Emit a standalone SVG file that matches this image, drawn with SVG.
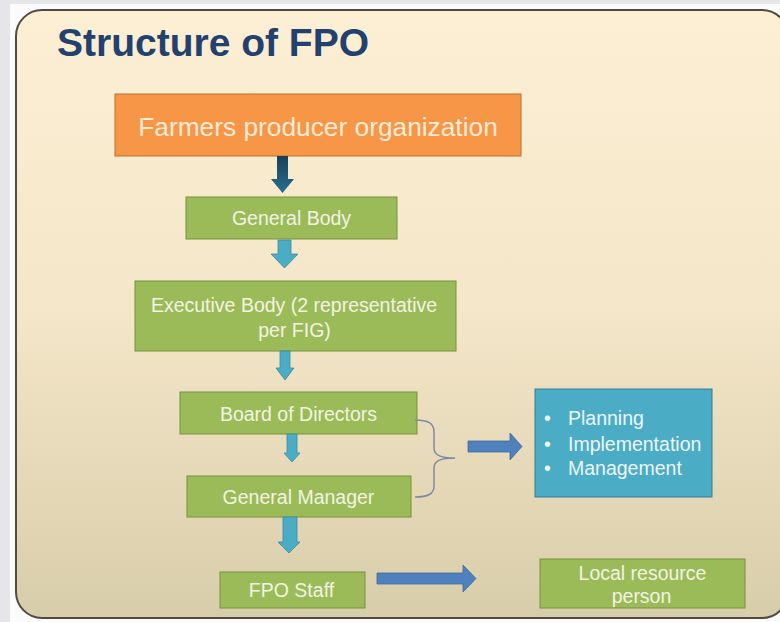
<svg xmlns="http://www.w3.org/2000/svg" width="780" height="622" viewBox="0 0 780 622">
  <defs>
    <linearGradient id="panelGrad" x1="0" y1="0" x2="0" y2="1">
      <stop offset="0" stop-color="#fdefd4"/>
      <stop offset="0.5" stop-color="#f4e6c8"/>
      <stop offset="1" stop-color="#d8cdaa"/>
    </linearGradient>
    <linearGradient id="darkArrow" x1="0" y1="0" x2="0" y2="1">
      <stop offset="0" stop-color="#173f56"/>
      <stop offset="1" stop-color="#2a6f90"/>
    </linearGradient>
    <style>
      .txt { font-family: "Liberation Sans", Arial, sans-serif; }
      .green rect { fill: #9bbb59; stroke: #76923c; stroke-width: 1; }
      .green text { fill: #f3f3e2; font-size: 19.5px; text-anchor: middle; }
      .lb { fill: #4bacc6; stroke: #3a8aa0; stroke-width: 0.8; }
      .bl { fill: #4f81bd; stroke: #3f6a9c; stroke-width: 0.8; }
    </style>
  </defs>

  <!-- background -->
  <rect x="0" y="0" width="780" height="622" fill="#fbfbfb"/>
  <rect x="0" y="0" width="780" height="4" fill="#e6e6ea"/>
  <rect x="0" y="0" width="10" height="622" fill="#e6e6ea"/>

  <!-- panel -->
  <rect x="16" y="10" width="772" height="608" rx="26" ry="26" fill="url(#panelGrad)" stroke="#4f4a42" stroke-width="2"/>

  <text class="txt" x="57" y="56" font-size="39" font-weight="bold" fill="#22416f">Structure of FPO</text>

  <g id="fpo">
    <rect x="115" y="94" width="406" height="62" fill="#f79646" stroke="#b8702f" stroke-width="1"/>
    <text class="txt" x="318" y="136" font-size="26.3" fill="#fdebd6" text-anchor="middle">Farmers producer organization</text>
  </g>

  <g id="general-body" class="green txt">
    <rect x="186" y="197" width="211" height="42"/>
    <text x="291.5" y="225">General Body</text>
  </g>

  <g id="executive-body" class="green txt">
    <rect x="135" y="281" width="321" height="70"/>
    <text x="294" y="312">Executive Body (2 representative</text>
    <text x="294.5" y="337">per FIG)</text>
  </g>

  <g id="board" class="green txt">
    <rect x="180" y="392" width="237" height="42"/>
    <text x="298.5" y="421">Board of Directors</text>
  </g>

  <g id="general-manager" class="green txt">
    <rect x="187" y="476" width="224" height="41"/>
    <text x="298.5" y="504">General Manager</text>
  </g>

  <g id="fpo-staff" class="green txt">
    <rect x="220" y="572" width="145" height="36"/>
    <text x="291.5" y="597">FPO Staff</text>
  </g>

  <g id="local-resource" class="green txt">
    <rect x="540" y="559" width="205" height="49"/>
    <text x="642.5" y="580">Local resource</text>
    <text x="641.5" y="603">person</text>
  </g>

  <g id="functions" class="txt">
    <rect x="535" y="389" width="177" height="108" fill="#4bacc6" stroke="#357d91" stroke-width="1"/>
    <g fill="#eef6f9" font-size="19.5">
      <text x="544" y="425">•</text>
      <text x="568" y="425">Planning</text>
      <text x="544" y="451">•</text>
      <text x="568" y="451">Implementation</text>
      <text x="544" y="475">•</text>
      <text x="568" y="475">Management</text>
    </g>
  </g>

  <g id="connectors">
    <polygon points="277,156 288,156 288,179 294,179 282.5,193 271,179 277,179" fill="url(#darkArrow)"/>
    <polygon class="lb" points="278,240 291,240 291,254 298,254 284.5,268 271,254 278,254"/>
    <polygon class="lb" points="280,351 290,351 290,368 294,368 285,380 276,368 280,368"/>
    <polygon class="lb" points="287,434 297,434 297,453 300,453 292,462 284,453 287,453"/>
    <polygon class="lb" points="283,517 297,517 297,542 300,542 289,553 278,542 283,542"/>
    <polygon class="bl" points="377,573 463,573 463,565 476,578.5 463,592 463,584 377,584"/>
    <polygon class="bl" points="468,441 510,441 510,433 522,446.5 510,460 510,452 468,452"/>
    <path d="M415,420 C428,420 434,423 434,432 L434,448 C434,455 440,458 455,458 C440,458 434,461 434,468 L434,486 C434,494 428,497 415,497" fill="none" stroke="#7d8ba0" stroke-width="1.5"/>
  </g>
</svg>
